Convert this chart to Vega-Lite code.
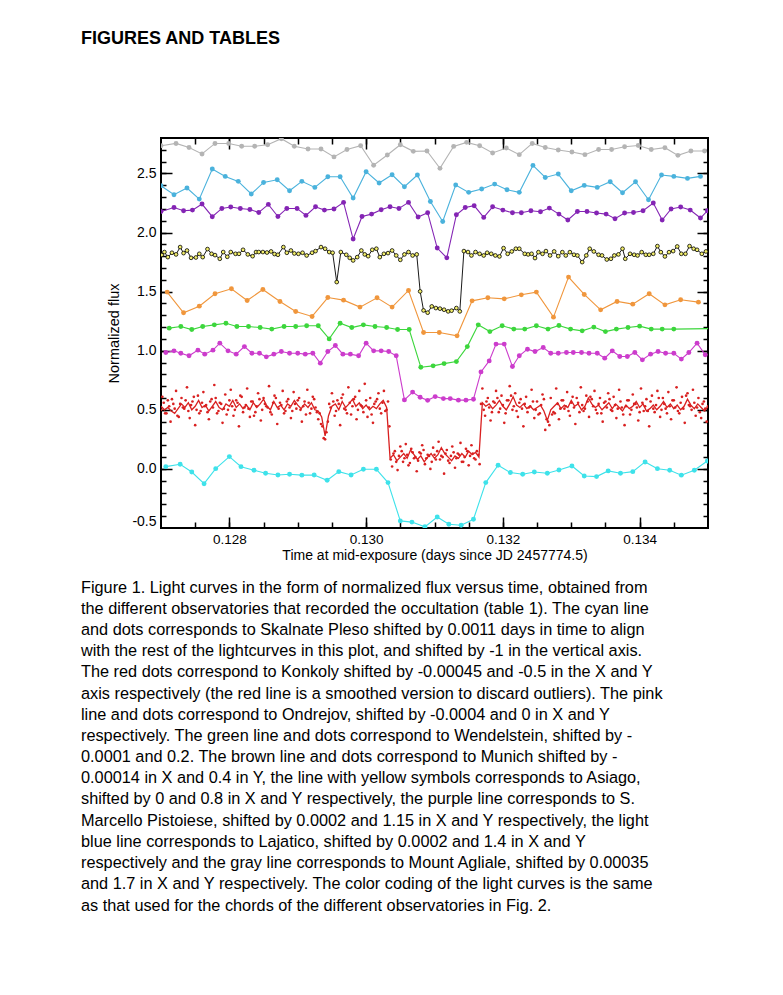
{
"$schema": "https://vega.github.io/schema/vega-lite/v6.json",
"background": "white",
"padding": {"left": 80, "top": 30, "right": 5, "bottom": 5},
"title": {"text": "FIGURES AND TABLES", "anchor": "start", "frame": "group", "dx": -80, "font": "Liberation Sans", "fontSize": 18, "fontWeight": "bold", "color": "black", "offset": 88},
"datasets": {
"main": [
{"s":"Skalnate","t":0.12707,"f":0.019},{"s":"Skalnate","t":0.12728,"f":0.039},{"s":"Skalnate","t":0.12745,"f":-0.026},{"s":"Skalnate","t":0.12763,"f":-0.125},{"s":"Skalnate","t":0.1278,"f":0.002},{"s":"Skalnate","t":0.128,"f":0.104},{"s":"Skalnate","t":0.12817,"f":0.019},{"s":"Skalnate","t":0.12836,"f":-0.011},{"s":"Skalnate","t":0.12853,"f":-0.037},{"s":"Skalnate","t":0.12871,"f":-0.051},{"s":"Skalnate","t":0.12888,"f":-0.045},{"s":"Skalnate","t":0.12906,"f":-0.053},{"s":"Skalnate","t":0.12924,"f":-0.051},{"s":"Skalnate","t":0.12943,"f":-0.096},{"s":"Skalnate","t":0.1296,"f":-0.023},{"s":"Skalnate","t":0.12978,"f":-0.051},{"s":"Skalnate","t":0.12996,"f":-0.003},{"s":"Skalnate","t":0.13015,"f":-0.003},{"s":"Skalnate","t":0.13032,"f":-0.116},{"s":"Skalnate","t":0.1305,"f":-0.44},{"s":"Skalnate","t":0.13067,"f":-0.45},{"s":"Skalnate","t":0.13086,"f":-0.49},{"s":"Skalnate","t":0.13104,"f":-0.407},{"s":"Skalnate","t":0.13121,"f":-0.468},{"s":"Skalnate","t":0.13139,"f":-0.477},{"s":"Skalnate","t":0.13157,"f":-0.426},{"s":"Skalnate","t":0.13175,"f":-0.116},{"s":"Skalnate","t":0.13193,"f":0.031},{"s":"Skalnate","t":0.13211,"f":-0.031},{"s":"Skalnate","t":0.13229,"f":-0.045},{"s":"Skalnate","t":0.13246,"f":-0.026},{"s":"Skalnate","t":0.13265,"f":-0.037},{"s":"Skalnate","t":0.13282,"f":-0.009},{"s":"Skalnate","t":0.13301,"f":0.025},{"s":"Skalnate","t":0.13319,"f":-0.06},{"s":"Skalnate","t":0.13337,"f":-0.065},{"s":"Skalnate","t":0.13354,"f":-0.017},{"s":"Skalnate","t":0.13372,"f":-0.037},{"s":"Skalnate","t":0.1339,"f":-0.023},{"s":"Skalnate","t":0.13408,"f":0.059},{"s":"Skalnate","t":0.13426,"f":0.002},{"s":"Skalnate","t":0.13444,"f":-0.011},{"s":"Skalnate","t":0.13461,"f":-0.053},{"s":"Skalnate","t":0.1348,"f":-0.011},{"s":"Skalnate","t":0.13499,"f":0.067},
{"s":"Ondrejov","t":0.12707,"f":0.985},{"s":"Ondrejov","t":0.12719,"f":0.999},{"s":"Ondrejov","t":0.12729,"f":0.979},{"s":"Ondrejov","t":0.12741,"f":0.957},{"s":"Ondrejov","t":0.12754,"f":1.005},{"s":"Ondrejov","t":0.12764,"f":0.971},{"s":"Ondrejov","t":0.12776,"f":1.005},{"s":"Ondrejov","t":0.12786,"f":1.064},{"s":"Ondrejov","t":0.12798,"f":0.999},{"s":"Ondrejov","t":0.1281,"f":0.971},{"s":"Ondrejov","t":0.12822,"f":1.035},{"s":"Ondrejov","t":0.12833,"f":0.979},{"s":"Ondrejov","t":0.12844,"f":0.979},{"s":"Ondrejov","t":0.12854,"f":0.948},{"s":"Ondrejov","t":0.12865,"f":0.971},{"s":"Ondrejov","t":0.12876,"f":0.993},{"s":"Ondrejov","t":0.12888,"f":0.979},{"s":"Ondrejov","t":0.129,"f":0.979},{"s":"Ondrejov","t":0.12911,"f":0.971},{"s":"Ondrejov","t":0.12922,"f":0.979},{"s":"Ondrejov","t":0.12933,"f":0.895},{"s":"Ondrejov","t":0.12944,"f":0.993},{"s":"Ondrejov","t":0.12955,"f":1.044},{"s":"Ondrejov","t":0.12966,"f":0.971},{"s":"Ondrejov","t":0.12977,"f":0.971},{"s":"Ondrejov","t":0.12989,"f":0.957},{"s":"Ondrejov","t":0.13,"f":1.064},{"s":"Ondrejov","t":0.13011,"f":0.999},{"s":"Ondrejov","t":0.13022,"f":0.999},{"s":"Ondrejov","t":0.13033,"f":0.993},{"s":"Ondrejov","t":0.13044,"f":0.957},{"s":"Ondrejov","t":0.13056,"f":0.584},{"s":"Ondrejov","t":0.13068,"f":0.65},{"s":"Ondrejov","t":0.13079,"f":0.606},{"s":"Ondrejov","t":0.1309,"f":0.58},{"s":"Ondrejov","t":0.13101,"f":0.612},{"s":"Ondrejov","t":0.13113,"f":0.595},{"s":"Ondrejov","t":0.13123,"f":0.595},{"s":"Ondrejov","t":0.13135,"f":0.582},{"s":"Ondrejov","t":0.13146,"f":0.582},{"s":"Ondrejov","t":0.13157,"f":0.59},{"s":"Ondrejov","t":0.13168,"f":0.821},{"s":"Ondrejov","t":0.1318,"f":0.914},{"s":"Ondrejov","t":0.1319,"f":1.056},{"s":"Ondrejov","t":0.13202,"f":1.056},{"s":"Ondrejov","t":0.13214,"f":0.866},{"s":"Ondrejov","t":0.13224,"f":0.957},{"s":"Ondrejov","t":0.13236,"f":1.013},{"s":"Ondrejov","t":0.13247,"f":0.993},{"s":"Ondrejov","t":0.13259,"f":1.027},{"s":"Ondrejov","t":0.1327,"f":0.979},{"s":"Ondrejov","t":0.13281,"f":0.979},{"s":"Ondrejov","t":0.13293,"f":0.985},{"s":"Ondrejov","t":0.13303,"f":0.985},{"s":"Ondrejov","t":0.13315,"f":0.985},{"s":"Ondrejov","t":0.13326,"f":0.979},{"s":"Ondrejov","t":0.13338,"f":0.979},{"s":"Ondrejov","t":0.13349,"f":0.937},{"s":"Ondrejov","t":0.1336,"f":0.999},{"s":"Ondrejov","t":0.13371,"f":0.951},{"s":"Ondrejov","t":0.13382,"f":0.951},{"s":"Ondrejov","t":0.13393,"f":0.985},{"s":"Ondrejov","t":0.13404,"f":0.923},{"s":"Ondrejov","t":0.13416,"f":0.971},{"s":"Ondrejov","t":0.13427,"f":0.993},{"s":"Ondrejov","t":0.13438,"f":0.979},{"s":"Ondrejov","t":0.1345,"f":0.979},{"s":"Ondrejov","t":0.13461,"f":0.929},{"s":"Ondrejov","t":0.13472,"f":0.985},{"s":"Ondrejov","t":0.13484,"f":1.064},{"s":"Ondrejov","t":0.13496,"f":0.965},
{"s":"Wendelstein","t":0.12712,"f":1.191},{"s":"Wendelstein","t":0.12729,"f":1.205},{"s":"Wendelstein","t":0.12745,"f":1.179},{"s":"Wendelstein","t":0.12761,"f":1.205},{"s":"Wendelstein","t":0.12778,"f":1.219},{"s":"Wendelstein","t":0.12795,"f":1.233},{"s":"Wendelstein","t":0.12811,"f":1.205},{"s":"Wendelstein","t":0.12828,"f":1.205},{"s":"Wendelstein","t":0.12845,"f":1.196},{"s":"Wendelstein","t":0.12862,"f":1.183},{"s":"Wendelstein","t":0.1288,"f":1.205},{"s":"Wendelstein","t":0.12897,"f":1.205},{"s":"Wendelstein","t":0.12913,"f":1.211},{"s":"Wendelstein","t":0.1293,"f":1.211},{"s":"Wendelstein","t":0.12946,"f":1.1},{"s":"Wendelstein","t":0.12962,"f":1.233},{"s":"Wendelstein","t":0.12979,"f":1.196},{"s":"Wendelstein","t":0.12996,"f":1.219},{"s":"Wendelstein","t":0.13013,"f":1.205},{"s":"Wendelstein","t":0.1303,"f":1.196},{"s":"Wendelstein","t":0.13046,"f":1.179},{"s":"Wendelstein","t":0.13063,"f":1.179},{"s":"Wendelstein","t":0.1308,"f":0.86},{"s":"Wendelstein","t":0.13098,"f":0.872},{"s":"Wendelstein","t":0.13114,"f":0.891},{"s":"Wendelstein","t":0.13132,"f":0.908},{"s":"Wendelstein","t":0.13148,"f":1.035},{"s":"Wendelstein","t":0.13164,"f":1.219},{"s":"Wendelstein","t":0.13181,"f":1.162},{"s":"Wendelstein","t":0.13199,"f":1.211},{"s":"Wendelstein","t":0.13216,"f":1.183},{"s":"Wendelstein","t":0.13232,"f":1.183},{"s":"Wendelstein","t":0.13249,"f":1.211},{"s":"Wendelstein","t":0.13266,"f":1.183},{"s":"Wendelstein","t":0.13282,"f":1.213},{"s":"Wendelstein","t":0.13299,"f":1.183},{"s":"Wendelstein","t":0.13316,"f":1.168},{"s":"Wendelstein","t":0.13333,"f":1.2},{"s":"Wendelstein","t":0.1335,"f":1.162},{"s":"Wendelstein","t":0.13366,"f":1.183},{"s":"Wendelstein","t":0.13383,"f":1.196},{"s":"Wendelstein","t":0.134,"f":1.208},{"s":"Wendelstein","t":0.13417,"f":1.183},{"s":"Wendelstein","t":0.13433,"f":1.183},{"s":"Wendelstein","t":0.1345,"f":1.183},{"s":"Wendelstein","t":0.1353,"f":1.19},
{"s":"Munich","t":0.12709,"f":1.496},{"s":"Munich","t":0.12733,"f":1.321},{"s":"Munich","t":0.12756,"f":1.377},{"s":"Munich","t":0.12779,"f":1.482},{"s":"Munich","t":0.12803,"f":1.524},{"s":"Munich","t":0.12826,"f":1.425},{"s":"Munich","t":0.12849,"f":1.518},{"s":"Munich","t":0.12874,"f":1.416},{"s":"Munich","t":0.12897,"f":1.332},{"s":"Munich","t":0.12921,"f":1.29},{"s":"Munich","t":0.12944,"f":1.45},{"s":"Munich","t":0.12967,"f":1.428},{"s":"Munich","t":0.12991,"f":1.369},{"s":"Munich","t":0.13016,"f":1.448},{"s":"Munich","t":0.13038,"f":1.369},{"s":"Munich","t":0.13062,"f":1.51},{"s":"Munich","t":0.13084,"f":1.154},{"s":"Munich","t":0.13107,"f":1.154},{"s":"Munich","t":0.13133,"f":1.126},{"s":"Munich","t":0.13155,"f":1.422},{"s":"Munich","t":0.13178,"f":1.448},{"s":"Munich","t":0.13202,"f":1.439},{"s":"Munich","t":0.13227,"f":1.473},{"s":"Munich","t":0.13249,"f":1.496},{"s":"Munich","t":0.13274,"f":1.284},{"s":"Munich","t":0.13296,"f":1.623},{"s":"Munich","t":0.13319,"f":1.476},{"s":"Munich","t":0.13343,"f":1.346},{"s":"Munich","t":0.13367,"f":1.417},{"s":"Munich","t":0.1339,"f":1.394},{"s":"Munich","t":0.13414,"f":1.482},{"s":"Munich","t":0.13437,"f":1.388},{"s":"Munich","t":0.1346,"f":1.431},{"s":"Munich","t":0.13486,"f":1.411},
{"s":"Marcello","t":0.127,"f":2.178},{"s":"Marcello","t":0.12719,"f":2.212},{"s":"Marcello","t":0.12733,"f":2.184},{"s":"Marcello","t":0.12746,"f":2.19},{"s":"Marcello","t":0.1276,"f":2.241},{"s":"Marcello","t":0.12775,"f":2.134},{"s":"Marcello","t":0.12789,"f":2.204},{"s":"Marcello","t":0.12802,"f":2.216},{"s":"Marcello","t":0.12816,"f":2.204},{"s":"Marcello","t":0.1283,"f":2.195},{"s":"Marcello","t":0.12843,"f":2.17},{"s":"Marcello","t":0.12857,"f":2.238},{"s":"Marcello","t":0.12871,"f":2.136},{"s":"Marcello","t":0.12884,"f":2.204},{"s":"Marcello","t":0.12899,"f":2.204},{"s":"Marcello","t":0.12912,"f":2.145},{"s":"Marcello","t":0.12926,"f":2.218},{"s":"Marcello","t":0.12939,"f":2.19},{"s":"Marcello","t":0.12953,"f":2.199},{"s":"Marcello","t":0.12967,"f":2.255},{"s":"Marcello","t":0.12981,"f":1.945},{"s":"Marcello","t":0.12994,"f":2.136},{"s":"Marcello","t":0.13008,"f":2.156},{"s":"Marcello","t":0.13022,"f":2.193},{"s":"Marcello","t":0.13035,"f":2.218},{"s":"Marcello","t":0.13048,"f":2.204},{"s":"Marcello","t":0.13062,"f":2.255},{"s":"Marcello","t":0.13076,"f":2.131},{"s":"Marcello","t":0.1309,"f":2.168},{"s":"Marcello","t":0.13104,"f":1.869},{"s":"Marcello","t":0.13118,"f":1.786},{"s":"Marcello","t":0.13132,"f":2.151},{"s":"Marcello","t":0.13145,"f":2.212},{"s":"Marcello","t":0.13158,"f":2.227},{"s":"Marcello","t":0.13172,"f":2.128},{"s":"Marcello","t":0.13185,"f":2.218},{"s":"Marcello","t":0.132,"f":2.19},{"s":"Marcello","t":0.13214,"f":2.167},{"s":"Marcello","t":0.13227,"f":2.167},{"s":"Marcello","t":0.13241,"f":2.184},{"s":"Marcello","t":0.13255,"f":2.176},{"s":"Marcello","t":0.13268,"f":2.207},{"s":"Marcello","t":0.13282,"f":2.156},{"s":"Marcello","t":0.13295,"f":2.106},{"s":"Marcello","t":0.13309,"f":2.178},{"s":"Marcello","t":0.13323,"f":2.178},{"s":"Marcello","t":0.13337,"f":2.165},{"s":"Marcello","t":0.13351,"f":2.156},{"s":"Marcello","t":0.13364,"f":2.117},{"s":"Marcello","t":0.13378,"f":2.165},{"s":"Marcello","t":0.13391,"f":2.17},{"s":"Marcello","t":0.13405,"f":2.184},{"s":"Marcello","t":0.1342,"f":2.25},{"s":"Marcello","t":0.13433,"f":2.106},{"s":"Marcello","t":0.13446,"f":2.199},{"s":"Marcello","t":0.1346,"f":2.216},{"s":"Marcello","t":0.13474,"f":2.19},{"s":"Marcello","t":0.13489,"f":2.123},{"s":"Marcello","t":0.13499,"f":2.184},
{"s":"Lajatico","t":0.127,"f":2.396},{"s":"Lajatico","t":0.12719,"f":2.32},{"s":"Lajatico","t":0.12738,"f":2.377},{"s":"Lajatico","t":0.12756,"f":2.283},{"s":"Lajatico","t":0.12775,"f":2.538},{"s":"Lajatico","t":0.12794,"f":2.475},{"s":"Lajatico","t":0.12813,"f":2.433},{"s":"Lajatico","t":0.12832,"f":2.326},{"s":"Lajatico","t":0.1285,"f":2.424},{"s":"Lajatico","t":0.1287,"f":2.447},{"s":"Lajatico","t":0.12888,"f":2.354},{"s":"Lajatico","t":0.12906,"f":2.433},{"s":"Lajatico","t":0.12925,"f":2.382},{"s":"Lajatico","t":0.12944,"f":2.472},{"s":"Lajatico","t":0.12962,"f":2.472},{"s":"Lajatico","t":0.12981,"f":2.292},{"s":"Lajatico","t":0.13,"f":2.515},{"s":"Lajatico","t":0.13019,"f":2.419},{"s":"Lajatico","t":0.13038,"f":2.489},{"s":"Lajatico","t":0.13056,"f":2.388},{"s":"Lajatico","t":0.13075,"f":2.487},{"s":"Lajatico","t":0.13094,"f":2.263},{"s":"Lajatico","t":0.13112,"f":2.094},{"s":"Lajatico","t":0.13131,"f":2.402},{"s":"Lajatico","t":0.1315,"f":2.34},{"s":"Lajatico","t":0.13169,"f":2.368},{"s":"Lajatico","t":0.13188,"f":2.41},{"s":"Lajatico","t":0.13206,"f":2.362},{"s":"Lajatico","t":0.13224,"f":2.34},{"s":"Lajatico","t":0.13244,"f":2.568},{"s":"Lajatico","t":0.13262,"f":2.466},{"s":"Lajatico","t":0.13281,"f":2.495},{"s":"Lajatico","t":0.133,"f":2.354},{"s":"Lajatico","t":0.13319,"f":2.399},{"s":"Lajatico","t":0.13338,"f":2.382},{"s":"Lajatico","t":0.13357,"f":2.43},{"s":"Lajatico","t":0.13375,"f":2.337},{"s":"Lajatico","t":0.13394,"f":2.43},{"s":"Lajatico","t":0.13413,"f":2.277},{"s":"Lajatico","t":0.13432,"f":2.487},{"s":"Lajatico","t":0.1345,"f":2.475},{"s":"Lajatico","t":0.1347,"f":2.458},{"s":"Lajatico","t":0.13489,"f":2.475},
{"s":"Agliale","t":0.127,"f":2.735},{"s":"Agliale","t":0.12722,"f":2.754},{"s":"Agliale","t":0.12741,"f":2.72},{"s":"Agliale","t":0.1276,"f":2.665},{"s":"Agliale","t":0.12779,"f":2.754},{"s":"Agliale","t":0.12799,"f":2.754},{"s":"Agliale","t":0.12818,"f":2.73},{"s":"Agliale","t":0.12837,"f":2.73},{"s":"Agliale","t":0.12856,"f":2.743},{"s":"Agliale","t":0.12876,"f":2.794},{"s":"Agliale","t":0.12895,"f":2.73},{"s":"Agliale","t":0.12915,"f":2.707},{"s":"Agliale","t":0.12934,"f":2.707},{"s":"Agliale","t":0.12953,"f":2.64},{"s":"Agliale","t":0.12972,"f":2.703},{"s":"Agliale","t":0.12992,"f":2.735},{"s":"Agliale","t":0.13011,"f":2.57},{"s":"Agliale","t":0.13031,"f":2.656},{"s":"Agliale","t":0.1305,"f":2.743},{"s":"Agliale","t":0.13069,"f":2.687},{"s":"Agliale","t":0.13089,"f":2.69},{"s":"Agliale","t":0.13108,"f":2.543},{"s":"Agliale","t":0.13128,"f":2.729},{"s":"Agliale","t":0.13147,"f":2.763},{"s":"Agliale","t":0.13166,"f":2.735},{"s":"Agliale","t":0.13185,"f":2.673},{"s":"Agliale","t":0.13205,"f":2.715},{"s":"Agliale","t":0.13224,"f":2.659},{"s":"Agliale","t":0.13243,"f":2.754},{"s":"Agliale","t":0.13262,"f":2.72},{"s":"Agliale","t":0.13281,"f":2.698},{"s":"Agliale","t":0.13301,"f":2.681},{"s":"Agliale","t":0.1332,"f":2.659},{"s":"Agliale","t":0.1334,"f":2.703},{"s":"Agliale","t":0.13359,"f":2.703},{"s":"Agliale","t":0.13378,"f":2.726},{"s":"Agliale","t":0.13398,"f":2.737},{"s":"Agliale","t":0.13417,"f":2.703},{"s":"Agliale","t":0.13437,"f":2.718},{"s":"Agliale","t":0.13456,"f":2.653},{"s":"Agliale","t":0.13475,"f":2.69},{"s":"Agliale","t":0.13495,"f":2.69}
],
"asiago": [
{"t":0.12701,"f":1.81},{"t":0.12705,"f":1.835},{"t":0.1271,"f":1.792},{"t":0.12716,"f":1.829},{"t":0.12722,"f":1.815},{"t":0.12728,"f":1.877},{"t":0.12733,"f":1.826},{"t":0.12738,"f":1.848},{"t":0.12744,"f":1.786},{"t":0.12751,"f":1.789},{"t":0.12756,"f":1.82},{"t":0.12761,"f":1.792},{"t":0.12768,"f":1.86},{"t":0.12774,"f":1.82},{"t":0.12779,"f":1.809},{"t":0.12786,"f":1.778},{"t":0.12791,"f":1.835},{"t":0.12797,"f":1.795},{"t":0.12802,"f":1.835},{"t":0.12809,"f":1.82},{"t":0.12814,"f":1.82},{"t":0.1282,"f":1.854},{"t":0.12827,"f":1.815},{"t":0.12834,"f":1.8},{"t":0.12839,"f":1.835},{"t":0.12843,"f":1.835},{"t":0.12849,"f":1.835},{"t":0.12855,"f":1.831},{"t":0.12861,"f":1.84},{"t":0.12866,"f":1.818},{"t":0.12871,"f":1.812},{"t":0.12879,"f":1.877},{"t":0.12884,"f":1.829},{"t":0.1289,"f":1.848},{"t":0.12895,"f":1.823},{"t":0.12901,"f":1.82},{"t":0.12907,"f":1.829},{"t":0.12913,"f":1.806},{"t":0.12921,"f":1.829},{"t":0.12926,"f":1.843},{"t":0.12934,"f":1.877},{"t":0.1294,"f":1.863},{"t":0.12946,"f":1.835},{"t":0.12951,"f":1.829},{"t":0.12957,"f":1.581},{"t":0.12963,"f":1.835},{"t":0.12971,"f":1.812},{"t":0.12976,"f":1.786},{"t":0.12981,"f":1.764},{"t":0.12987,"f":1.792},{"t":0.12993,"f":1.848},{"t":0.12998,"f":1.815},{"t":0.13003,"f":1.8},{"t":0.13009,"f":1.854},{"t":0.13015,"f":1.863},{"t":0.1302,"f":1.792},{"t":0.13026,"f":1.82},{"t":0.13032,"f":1.826},{"t":0.13038,"f":1.848},{"t":0.13044,"f":1.806},{"t":0.1305,"f":1.769},{"t":0.13056,"f":1.815},{"t":0.13062,"f":1.835},{"t":0.13068,"f":1.806},{"t":0.13074,"f":1.815},{"t":0.13079,"f":1.502},{"t":0.13084,"f":1.341},{"t":0.1309,"f":1.322},{"t":0.13096,"f":1.375},{"t":0.13102,"f":1.361},{"t":0.13108,"f":1.356},{"t":0.13114,"f":1.347},{"t":0.1312,"f":1.333},{"t":0.13125,"f":1.339},{"t":0.13132,"f":1.361},{"t":0.13137,"f":1.333},{"t":0.13143,"f":1.843},{"t":0.13149,"f":1.835},{"t":0.13154,"f":1.806},{"t":0.1316,"f":1.835},{"t":0.13166,"f":1.82},{"t":0.13172,"f":1.806},{"t":0.13177,"f":1.829},{"t":0.13183,"f":1.82},{"t":0.13189,"f":1.806},{"t":0.13195,"f":1.798},{"t":0.13201,"f":1.868},{"t":0.13207,"f":1.82},{"t":0.13213,"f":1.84},{"t":0.13219,"f":1.863},{"t":0.13224,"f":1.863},{"t":0.13232,"f":1.82},{"t":0.13237,"f":1.815},{"t":0.13242,"f":1.82},{"t":0.13247,"f":1.784},{"t":0.13252,"f":1.834},{"t":0.13258,"f":1.82},{"t":0.13263,"f":1.843},{"t":0.13269,"f":1.806},{"t":0.13275,"f":1.84},{"t":0.13281,"f":1.8},{"t":0.13287,"f":1.834},{"t":0.13292,"f":1.806},{"t":0.13298,"f":1.834},{"t":0.13304,"f":1.812},{"t":0.13309,"f":1.806},{"t":0.13316,"f":1.75},{"t":0.13322,"f":1.806},{"t":0.13327,"f":1.863},{"t":0.13333,"f":1.84},{"t":0.1334,"f":1.812},{"t":0.13345,"f":1.806},{"t":0.13352,"f":1.772},{"t":0.13358,"f":1.778},{"t":0.13363,"f":1.806},{"t":0.13369,"f":1.815},{"t":0.13375,"f":1.863},{"t":0.13379,"f":1.778},{"t":0.13386,"f":1.82},{"t":0.13392,"f":1.812},{"t":0.13397,"f":1.806},{"t":0.13403,"f":1.834},{"t":0.13409,"f":1.812},{"t":0.13414,"f":1.812},{"t":0.1342,"f":1.82},{"t":0.13426,"f":1.885},{"t":0.13431,"f":1.834},{"t":0.13437,"f":1.798},{"t":0.13443,"f":1.834},{"t":0.13449,"f":1.843},{"t":0.13455,"f":1.882},{"t":0.13461,"f":1.82},{"t":0.13467,"f":1.82},{"t":0.13473,"f":1.885},{"t":0.13479,"f":1.863},{"t":0.13484,"f":1.854},{"t":0.13491,"f":1.82},{"t":0.13497,"f":1.84}
],
"kline": [
{"t":0.127,"f":0.53},{"t":0.12705,"f":0.5},{"t":0.1271,"f":0.52},{"t":0.12715,"f":0.49},{"t":0.1272,"f":0.47},{"t":0.12725,"f":0.51},{"t":0.1273,"f":0.55},{"t":0.12735,"f":0.52},{"t":0.1274,"f":0.56},{"t":0.12745,"f":0.5},{"t":0.1275,"f":0.53},{"t":0.12755,"f":0.58},{"t":0.1276,"f":0.52},{"t":0.12765,"f":0.54},{"t":0.1277,"f":0.49},{"t":0.12775,"f":0.53},{"t":0.1278,"f":0.57},{"t":0.12785,"f":0.52},{"t":0.1279,"f":0.5},{"t":0.12795,"f":0.55},{"t":0.128,"f":0.53},{"t":0.12805,"f":0.58},{"t":0.1281,"f":0.52},{"t":0.12815,"f":0.55},{"t":0.1282,"f":0.51},{"t":0.12825,"f":0.54},{"t":0.1283,"f":0.5},{"t":0.12835,"f":0.56},{"t":0.1284,"f":0.52},{"t":0.12845,"f":0.55},{"t":0.1285,"f":0.59},{"t":0.12855,"f":0.53},{"t":0.1286,"f":0.5},{"t":0.12865,"f":0.57},{"t":0.1287,"f":0.52},{"t":0.12875,"f":0.54},{"t":0.1288,"f":0.5},{"t":0.12885,"f":0.55},{"t":0.1289,"f":0.53},{"t":0.12895,"f":0.58},{"t":0.129,"f":0.54},{"t":0.12905,"f":0.51},{"t":0.1291,"f":0.55},{"t":0.12915,"f":0.52},{"t":0.1292,"f":0.56},{"t":0.12925,"f":0.5},{"t":0.1293,"f":0.49},{"t":0.12935,"f":0.44},{"t":0.1294,"f":0.28},{"t":0.12945,"f":0.45},{"t":0.1295,"f":0.53},{"t":0.12955,"f":0.55},{"t":0.1296,"f":0.5},{"t":0.12965,"f":0.57},{"t":0.1297,"f":0.52},{"t":0.12975,"f":0.55},{"t":0.1298,"f":0.59},{"t":0.12985,"f":0.53},{"t":0.1299,"f":0.56},{"t":0.12995,"f":0.51},{"t":0.13,"f":0.54},{"t":0.13005,"f":0.5},{"t":0.1301,"f":0.53},{"t":0.13015,"f":0.51},{"t":0.1302,"f":0.55},{"t":0.13025,"f":0.58},{"t":0.1303,"f":0.52},{"t":0.13035,"f":0.09},{"t":0.1304,"f":0.12},{"t":0.13045,"f":0.07},{"t":0.1305,"f":0.1},{"t":0.13055,"f":0.13},{"t":0.1306,"f":0.09},{"t":0.13065,"f":0.16},{"t":0.1307,"f":0.12},{"t":0.13075,"f":0.08},{"t":0.1308,"f":0.11},{"t":0.13085,"f":0.06},{"t":0.1309,"f":0.1},{"t":0.13095,"f":0.13},{"t":0.131,"f":0.09},{"t":0.13105,"f":0.12},{"t":0.1311,"f":0.18},{"t":0.13115,"f":0.13},{"t":0.1312,"f":0.1},{"t":0.13125,"f":0.07},{"t":0.1313,"f":0.11},{"t":0.13135,"f":0.09},{"t":0.1314,"f":0.13},{"t":0.13145,"f":0.1},{"t":0.1315,"f":0.15},{"t":0.13155,"f":0.12},{"t":0.1316,"f":0.14},{"t":0.13165,"f":0.1},{"t":0.1317,"f":0.56},{"t":0.13175,"f":0.53},{"t":0.1318,"f":0.55},{"t":0.13185,"f":0.51},{"t":0.1319,"f":0.54},{"t":0.13195,"f":0.58},{"t":0.132,"f":0.53},{"t":0.13205,"f":0.5},{"t":0.1321,"f":0.55},{"t":0.13215,"f":0.61},{"t":0.1322,"f":0.54},{"t":0.13225,"f":0.52},{"t":0.1323,"f":0.55},{"t":0.13235,"f":0.51},{"t":0.1324,"f":0.53},{"t":0.13245,"f":0.5},{"t":0.1325,"f":0.52},{"t":0.13255,"f":0.54},{"t":0.1326,"f":0.49},{"t":0.13265,"f":0.41},{"t":0.1327,"f":0.5},{"t":0.13275,"f":0.53},{"t":0.1328,"f":0.56},{"t":0.13285,"f":0.51},{"t":0.1329,"f":0.54},{"t":0.13295,"f":0.52},{"t":0.133,"f":0.58},{"t":0.13305,"f":0.53},{"t":0.1331,"f":0.55},{"t":0.13315,"f":0.5},{"t":0.1332,"f":0.53},{"t":0.13325,"f":0.6},{"t":0.1333,"f":0.55},{"t":0.13335,"f":0.52},{"t":0.1334,"f":0.54},{"t":0.13345,"f":0.5},{"t":0.1335,"f":0.53},{"t":0.13355,"f":0.56},{"t":0.1336,"f":0.51},{"t":0.13365,"f":0.55},{"t":0.1337,"f":0.52},{"t":0.13375,"f":0.49},{"t":0.1338,"f":0.54},{"t":0.13385,"f":0.51},{"t":0.1339,"f":0.53},{"t":0.13395,"f":0.57},{"t":0.134,"f":0.52},{"t":0.13405,"f":0.55},{"t":0.1341,"f":0.49},{"t":0.13415,"f":0.51},{"t":0.1342,"f":0.54},{"t":0.13425,"f":0.5},{"t":0.1343,"f":0.53},{"t":0.13435,"f":0.57},{"t":0.1344,"f":0.52},{"t":0.13445,"f":0.55},{"t":0.1345,"f":0.51},{"t":0.13455,"f":0.54},{"t":0.1346,"f":0.5},{"t":0.13465,"f":0.53},{"t":0.1347,"f":0.59},{"t":0.13475,"f":0.54},{"t":0.1348,"f":0.51},{"t":0.13485,"f":0.55},{"t":0.1349,"f":0.52},{"t":0.13495,"f":0.49},{"t":0.135,"f":0.53}
],
"kdots": [
{"t":0.12702,"f":0.61},{"t":0.12706,"f":0.47},{"t":0.1271,"f":0.58},{"t":0.12714,"f":0.4},{"t":0.12718,"f":0.55},{"t":0.12722,"f":0.66},{"t":0.12726,"f":0.44},{"t":0.1273,"f":0.6},{"t":0.12734,"f":0.51},{"t":0.12738,"f":0.69},{"t":0.12742,"f":0.43},{"t":0.12746,"f":0.57},{"t":0.1275,"f":0.37},{"t":0.12754,"f":0.62},{"t":0.12758,"f":0.49},{"t":0.12762,"f":0.65},{"t":0.12766,"f":0.54},{"t":0.1277,"f":0.42},{"t":0.12774,"f":0.59},{"t":0.12778,"f":0.71},{"t":0.12782,"f":0.47},{"t":0.12786,"f":0.56},{"t":0.1279,"f":0.39},{"t":0.12794,"f":0.63},{"t":0.12798,"f":0.5},{"t":0.12802,"f":0.67},{"t":0.12806,"f":0.45},{"t":0.1281,"f":0.58},{"t":0.12814,"f":0.36},{"t":0.12818,"f":0.61},{"t":0.12822,"f":0.52},{"t":0.12826,"f":0.68},{"t":0.1283,"f":0.44},{"t":0.12834,"f":0.57},{"t":0.12838,"f":0.48},{"t":0.12842,"f":0.64},{"t":0.12846,"f":0.41},{"t":0.1285,"f":0.6},{"t":0.12854,"f":0.53},{"t":0.12858,"f":0.7},{"t":0.12862,"f":0.46},{"t":0.12866,"f":0.62},{"t":0.1287,"f":0.38},{"t":0.12874,"f":0.56},{"t":0.12878,"f":0.66},{"t":0.12882,"f":0.49},{"t":0.12886,"f":0.59},{"t":0.1289,"f":0.43},{"t":0.12894,"f":0.65},{"t":0.12898,"f":0.51},{"t":0.12902,"f":0.6},{"t":0.12906,"f":0.4},{"t":0.1291,"f":0.57},{"t":0.12914,"f":0.67},{"t":0.12918,"f":0.47},{"t":0.12922,"f":0.61},{"t":0.12926,"f":0.52},{"t":0.1293,"f":0.42},{"t":0.12934,"f":0.38},{"t":0.12938,"f":0.26},{"t":0.12942,"f":0.31},{"t":0.12946,"f":0.55},{"t":0.1295,"f":0.64},{"t":0.12954,"f":0.45},{"t":0.12958,"f":0.58},{"t":0.12962,"f":0.37},{"t":0.12966,"f":0.63},{"t":0.1297,"f":0.5},{"t":0.12974,"f":0.69},{"t":0.12978,"f":0.46},{"t":0.12982,"f":0.59},{"t":0.12986,"f":0.42},{"t":0.1299,"f":0.66},{"t":0.12994,"f":0.53},{"t":0.12998,"f":0.72},{"t":0.13002,"f":0.44},{"t":0.13006,"f":0.6},{"t":0.1301,"f":0.39},{"t":0.13014,"f":0.57},{"t":0.13018,"f":0.64},{"t":0.13022,"f":0.47},{"t":0.13026,"f":0.66},{"t":0.1303,"f":0.5},{"t":0.13034,"f":0.36},
{"t":0.13038,"f":0.02},{"t":0.13042,"f":0.15},{"t":0.13046,"f":-0.01},{"t":0.1305,"f":0.19},{"t":0.13054,"f":0.06},{"t":0.13058,"f":0.21},{"t":0.13062,"f":0.03},{"t":0.13066,"f":0.17},{"t":0.1307,"f":0.09},{"t":0.13074,"f":-0.02},{"t":0.13078,"f":0.14},{"t":0.13082,"f":0.2},{"t":0.13086,"f":0.04},{"t":0.1309,"f":0.12},{"t":0.13094,"f":0.0},{"t":0.13098,"f":0.18},{"t":0.13102,"f":0.08},{"t":0.13106,"f":0.23},{"t":0.1311,"f":0.11},{"t":0.13114,"f":-0.04},{"t":0.13118,"f":0.16},{"t":0.13122,"f":0.05},{"t":0.13126,"f":0.19},{"t":0.1313,"f":0.01},{"t":0.13134,"f":0.13},{"t":0.13138,"f":0.22},{"t":0.13142,"f":0.06},{"t":0.13146,"f":0.17},{"t":0.1315,"f":0.03},{"t":0.13154,"f":0.2},{"t":0.13158,"f":0.09},{"t":0.13162,"f":0.15},{"t":0.13166,"f":0.04},
{"t":0.1317,"f":0.68},{"t":0.13174,"f":0.45},{"t":0.13178,"f":0.6},{"t":0.13182,"f":0.41},{"t":0.13186,"f":0.57},{"t":0.1319,"f":0.66},{"t":0.13194,"f":0.48},{"t":0.13198,"f":0.62},{"t":0.13202,"f":0.39},{"t":0.13206,"f":0.58},{"t":0.1321,"f":0.7},{"t":0.13214,"f":0.5},{"t":0.13218,"f":0.64},{"t":0.13222,"f":0.44},{"t":0.13226,"f":0.59},{"t":0.1323,"f":0.36},{"t":0.13234,"f":0.61},{"t":0.13238,"f":0.52},{"t":0.13242,"f":0.67},{"t":0.13246,"f":0.43},{"t":0.1325,"f":0.57},{"t":0.13254,"f":0.47},{"t":0.13258,"f":0.63},{"t":0.13262,"f":0.33},{"t":0.13266,"f":0.4},{"t":0.1327,"f":0.6},{"t":0.13274,"f":0.48},{"t":0.13278,"f":0.68},{"t":0.13282,"f":0.42},{"t":0.13286,"f":0.58},{"t":0.1329,"f":0.51},{"t":0.13294,"f":0.65},{"t":0.13298,"f":0.45},{"t":0.13302,"f":0.61},{"t":0.13306,"f":0.38},{"t":0.1331,"f":0.56},{"t":0.13314,"f":0.69},{"t":0.13318,"f":0.49},{"t":0.13322,"f":0.62},{"t":0.13326,"f":0.44},{"t":0.1333,"f":0.59},{"t":0.13334,"f":0.66},{"t":0.13338,"f":0.47},{"t":0.13342,"f":0.6},{"t":0.13346,"f":0.4},{"t":0.1335,"f":0.57},{"t":0.13354,"f":0.64},{"t":0.13358,"f":0.5},{"t":0.13362,"f":0.61},{"t":0.13366,"f":0.43},{"t":0.1337,"f":0.67},{"t":0.13374,"f":0.52},{"t":0.13378,"f":0.37},{"t":0.13382,"f":0.58},{"t":0.13386,"f":0.46},{"t":0.1339,"f":0.63},{"t":0.13394,"f":0.55},{"t":0.13398,"f":0.41},{"t":0.13402,"f":0.68},{"t":0.13406,"f":0.49},{"t":0.1341,"f":0.59},{"t":0.13414,"f":0.36},{"t":0.13418,"f":0.62},{"t":0.13422,"f":0.48},{"t":0.13426,"f":0.66},{"t":0.1343,"f":0.44},{"t":0.13434,"f":0.6},{"t":0.13438,"f":0.51},{"t":0.13442,"f":0.65},{"t":0.13446,"f":0.42},{"t":0.1345,"f":0.58},{"t":0.13454,"f":0.69},{"t":0.13458,"f":0.47},{"t":0.13462,"f":0.61},{"t":0.13466,"f":0.39},{"t":0.1347,"f":0.64},{"t":0.13474,"f":0.53},{"t":0.13478,"f":0.67},{"t":0.13482,"f":0.45},{"t":0.13486,"f":0.6},{"t":0.1349,"f":0.43},{"t":0.13494,"f":0.57},{"t":0.13498,"f":0.4},
{"t":0.127,"f":0.5},{"t":0.12704,"f":0.56},{"t":0.12708,"f":0.47},{"t":0.12712,"f":0.53},{"t":0.12716,"f":0.59},{"t":0.1272,"f":0.51},{"t":0.12724,"f":0.45},{"t":0.12728,"f":0.55},{"t":0.12732,"f":0.52},{"t":0.12736,"f":0.58},{"t":0.1274,"f":0.49},{"t":0.12744,"f":0.54},{"t":0.12748,"f":0.61},{"t":0.12752,"f":0.5},{"t":0.12756,"f":0.47},{"t":0.1276,"f":0.56},{"t":0.12764,"f":0.53},{"t":0.12768,"f":0.48},{"t":0.12772,"f":0.57},{"t":0.12776,"f":0.52},{"t":0.1278,"f":0.6},{"t":0.12784,"f":0.49},{"t":0.12788,"f":0.55},{"t":0.12792,"f":0.51},{"t":0.12796,"f":0.46},{"t":0.128,"f":0.58},{"t":0.12804,"f":0.53},{"t":0.12808,"f":0.5},{"t":0.12812,"f":0.56},{"t":0.12816,"f":0.62},{"t":0.1282,"f":0.48},{"t":0.12824,"f":0.54},{"t":0.12828,"f":0.51},{"t":0.12832,"f":0.57},{"t":0.12836,"f":0.45},{"t":0.1284,"f":0.53},{"t":0.12844,"f":0.59},{"t":0.12848,"f":0.5},{"t":0.12852,"f":0.55},{"t":0.12856,"f":0.52},{"t":0.1286,"f":0.48},{"t":0.12864,"f":0.56},{"t":0.12868,"f":0.6},{"t":0.12872,"f":0.51},{"t":0.12876,"f":0.54},{"t":0.1288,"f":0.47},{"t":0.12884,"f":0.57},{"t":0.12888,"f":0.52},{"t":0.12892,"f":0.49},{"t":0.12896,"f":0.55},{"t":0.129,"f":0.58},{"t":0.12904,"f":0.5},{"t":0.12908,"f":0.53},{"t":0.12912,"f":0.46},{"t":0.12916,"f":0.56},{"t":0.1292,"f":0.51},{"t":0.12924,"f":0.59},{"t":0.12928,"f":0.48},{"t":0.12932,"f":0.47},{"t":0.12936,"f":0.36},{"t":0.1294,"f":0.25},{"t":0.12944,"f":0.4},{"t":0.12948,"f":0.52},{"t":0.12952,"f":0.57},{"t":0.12956,"f":0.49},{"t":0.1296,"f":0.55},{"t":0.12964,"f":0.6},{"t":0.12968,"f":0.51},{"t":0.12972,"f":0.47},{"t":0.12976,"f":0.56},{"t":0.1298,"f":0.53},{"t":0.12984,"f":0.61},{"t":0.12988,"f":0.5},{"t":0.12992,"f":0.54},{"t":0.12996,"f":0.48},{"t":0.13,"f":0.58},{"t":0.13004,"f":0.52},{"t":0.13008,"f":0.46},{"t":0.13012,"f":0.55},{"t":0.13016,"f":0.59},{"t":0.1302,"f":0.51},{"t":0.13024,"f":0.56},{"t":0.13028,"f":0.49},{"t":0.13032,"f":0.57},
{"t":0.13036,"f":0.08},{"t":0.1304,"f":0.13},{"t":0.13044,"f":0.06},{"t":0.13048,"f":0.11},{"t":0.13052,"f":0.15},{"t":0.13056,"f":0.09},{"t":0.1306,"f":0.12},{"t":0.13064,"f":0.05},{"t":0.13068,"f":0.14},{"t":0.13072,"f":0.1},{"t":0.13076,"f":0.07},{"t":0.1308,"f":0.13},{"t":0.13084,"f":0.16},{"t":0.13088,"f":0.09},{"t":0.13092,"f":0.11},{"t":0.13096,"f":0.06},{"t":0.131,"f":0.12},{"t":0.13104,"f":0.15},{"t":0.13108,"f":0.08},{"t":0.13112,"f":0.1},{"t":0.13116,"f":0.13},{"t":0.1312,"f":0.07},{"t":0.13124,"f":0.11},{"t":0.13128,"f":0.14},{"t":0.13132,"f":0.09},{"t":0.13136,"f":0.12},{"t":0.1314,"f":0.06},{"t":0.13144,"f":0.1},{"t":0.13148,"f":0.15},{"t":0.13152,"f":0.11},{"t":0.13156,"f":0.13},{"t":0.1316,"f":0.08},{"t":0.13164,"f":0.12},
{"t":0.13168,"f":0.55},{"t":0.13172,"f":0.5},{"t":0.13176,"f":0.57},{"t":0.1318,"f":0.52},{"t":0.13184,"f":0.48},{"t":0.13188,"f":0.56},{"t":0.13192,"f":0.6},{"t":0.13196,"f":0.51},{"t":0.132,"f":0.54},{"t":0.13204,"f":0.47},{"t":0.13208,"f":0.58},{"t":0.13212,"f":0.62},{"t":0.13216,"f":0.53},{"t":0.1322,"f":0.49},{"t":0.13224,"f":0.56},{"t":0.13228,"f":0.51},{"t":0.13232,"f":0.55},{"t":0.13236,"f":0.48},{"t":0.1324,"f":0.53},{"t":0.13244,"f":0.57},{"t":0.13248,"f":0.5},{"t":0.13252,"f":0.46},{"t":0.13256,"f":0.54},{"t":0.1326,"f":0.59},{"t":0.13264,"f":0.42},{"t":0.13268,"f":0.37},{"t":0.13272,"f":0.46},{"t":0.13276,"f":0.47},{"t":0.1328,"f":0.55},{"t":0.13284,"f":0.51},{"t":0.13288,"f":0.58},{"t":0.13292,"f":0.53},{"t":0.13296,"f":0.49},{"t":0.133,"f":0.56},{"t":0.13304,"f":0.52},{"t":0.13308,"f":0.6},{"t":0.13312,"f":0.48},{"t":0.13316,"f":0.54},{"t":0.1332,"f":0.51},{"t":0.13324,"f":0.57},{"t":0.13328,"f":0.61},{"t":0.13332,"f":0.53},{"t":0.13336,"f":0.5},{"t":0.1334,"f":0.55},{"t":0.13344,"f":0.47},{"t":0.13348,"f":0.56},{"t":0.13352,"f":0.52},{"t":0.13356,"f":0.59},{"t":0.1336,"f":0.49},{"t":0.13364,"f":0.54},{"t":0.13368,"f":0.51},{"t":0.13372,"f":0.57},{"t":0.13376,"f":0.46},{"t":0.1338,"f":0.53},{"t":0.13384,"f":0.58},{"t":0.13388,"f":0.5},{"t":0.13392,"f":0.55},{"t":0.13396,"f":0.52},{"t":0.134,"f":0.48},{"t":0.13404,"f":0.56},{"t":0.13408,"f":0.53},{"t":0.13412,"f":0.49},{"t":0.13416,"f":0.57},{"t":0.1342,"f":0.51},{"t":0.13424,"f":0.54},{"t":0.13428,"f":0.6},{"t":0.13432,"f":0.5},{"t":0.13436,"f":0.55},{"t":0.1344,"f":0.47},{"t":0.13444,"f":0.53},{"t":0.13448,"f":0.58},{"t":0.13452,"f":0.52},{"t":0.13456,"f":0.49},{"t":0.1346,"f":0.56},{"t":0.13464,"f":0.51},{"t":0.13468,"f":0.62},{"t":0.13472,"f":0.54},{"t":0.13476,"f":0.5},{"t":0.1348,"f":0.56},{"t":0.13484,"f":0.52},{"t":0.13488,"f":0.48},{"t":0.13492,"f":0.55},{"t":0.13496,"f":0.51},{"t":0.135,"f":0.53}
]
},
"vconcat": [{
"width": 547,
"height": 390,
"title": {"text": ["Figure 1. Light curves in the form of normalized flux versus time, obtained from", "the different observatories that recorded the occultation (table 1). The cyan line", "and dots corresponds to Skalnate Pleso shifted by 0.0011 days in time to align", "with the rest of the lightcurves in this plot, and shifted by -1 in the vertical axis.", "The red dots correspond to Konkoly shifted by -0.00045 and -0.5 in the X and Y", "axis respectively (the red line is a smoothed version to discard outliers). The pink", "line and dots correspond to Ondrejov, shifted by -0.0004 and 0 in X and Y", "respectively. The green line and dots correspond to Wendelstein, shifted by -", "0.0001 and 0.2. The brown line and dots correspond to Munich shifted by -", "0.00014 in X and 0.4 in Y, the line with yellow symbols corresponds to Asiago,", "shifted by 0 and 0.8 in X and Y respectively, the purple line corresponds to S.", "Marcello Pistoiese, shifted by 0.0002 and 1.15 in X and Y respectively, the light", "blue line corresponds to Lajatico, shifted by 0.0002 and 1.4 in X and Y", "respectively and the gray line corresponds to Mount Agliale, shifted by 0.00035", "and 1.7 in X and Y respectively. The color coding of the light curves is the same", "as that used for the chords of the different observatories in Fig. 2."], "orient": "bottom", "anchor": "start", "frame": "group", "dx": -80, "offset": 17, "font": "Liberation Sans", "fontSize": 16.3, "fontWeight": "normal", "lineHeight": 21.2, "color": "black"},
"resolve": {"axis": {"x": "independent", "y": "independent"}},
"layer": [
{"data": {"name": "kdots"},
 "mark": {"type": "circle", "color": "#d92020", "size": 7, "opacity": 1, "clip": true},
 "encoding": {
  "x": {"field": "t", "type": "quantitative", "scale": {"domain": [0.127, 0.135], "nice": false, "zero": false}, "axis": {"orient": "bottom", "values": [0.1275,0.128,0.1285,0.129,0.1295,0.13,0.1305,0.131,0.1315,0.132,0.1325,0.133,0.1335,0.134,0.1345], "labels": false, "domain": false, "grid": false, "tickSize": -6, "tickWidth": 1.5, "tickColor": "black", "title": null}},
  "y": {"field": "f", "type": "quantitative", "scale": {"domain": [-0.5, 2.8], "nice": false, "zero": false}, "axis": {"orient": "left", "values": [-0.4,-0.3,-0.2,-0.1,0,0.1,0.2,0.3,0.4,0.5,0.6,0.7,0.8,0.9,1,1.1,1.2,1.3,1.4,1.5,1.6,1.7,1.8,1.9,2,2.1,2.2,2.3,2.4,2.5,2.6,2.7], "labels": false, "domain": false, "grid": false, "tickSize": -5, "tickWidth": 1.5, "tickColor": "black", "title": null}}
 }},
{"data": {"name": "kline"},
 "mark": {"type": "line", "color": "#d92020", "strokeWidth": 1.3, "clip": true},
 "encoding": {
  "x": {"field": "t", "type": "quantitative", "axis": {"orient": "top", "values": [0.1275,0.128,0.1285,0.129,0.1295,0.13,0.1305,0.131,0.1315,0.132,0.1325,0.133,0.1335,0.134,0.1345], "labels": false, "domain": false, "grid": false, "tickSize": -6, "tickWidth": 1.5, "tickColor": "black", "title": null}},
  "y": {"field": "f", "type": "quantitative", "axis": {"orient": "right", "values": [-0.4,-0.3,-0.2,-0.1,0,0.1,0.2,0.3,0.4,0.5,0.6,0.7,0.8,0.9,1,1.1,1.2,1.3,1.4,1.5,1.6,1.7,1.8,1.9,2,2.1,2.2,2.3,2.4,2.5,2.6,2.7], "labels": false, "domain": false, "grid": false, "tickSize": -5, "tickWidth": 1.5, "tickColor": "black", "title": null}}
 }},
{"data": {"name": "main"},
 "mark": {"type": "line", "strokeWidth": 1.1, "clip": true},
 "encoding": {
  "x": {"field": "t", "type": "quantitative", "axis": {"orient": "bottom", "values": [0.128,0.13,0.132,0.134], "labels": false, "domain": false, "grid": false, "tickSize": -11, "tickWidth": 1.5, "tickColor": "black", "title": null}},
  "y": {"field": "f", "type": "quantitative", "axis": {"orient": "left", "values": [0,0.5,1,1.5,2,2.5], "labels": false, "domain": false, "grid": false, "tickSize": -11, "tickWidth": 1.5, "tickColor": "black", "title": null}},
  "color": {"field": "s", "type": "nominal", "scale": {"domain": ["Skalnate","Ondrejov","Wendelstein","Munich","Marcello","Lajatico","Agliale"], "range": ["#3ee2ea","#cc3ccc","#3cd63c","#f0963c","#8424b4","#4ab2dc","#b4b4b4"]}, "legend": null}
 }},
{"data": {"name": "main"},
 "mark": {"type": "circle", "size": 24, "opacity": 1, "clip": true},
 "encoding": {
  "x": {"field": "t", "type": "quantitative", "axis": {"orient": "top", "values": [0.128,0.13,0.132,0.134], "labels": false, "domain": false, "grid": false, "tickSize": -11, "tickWidth": 1.5, "tickColor": "black", "title": null}},
  "y": {"field": "f", "type": "quantitative", "axis": {"orient": "right", "values": [0,0.5,1,1.5,2,2.5], "labels": false, "domain": false, "grid": false, "tickSize": -11, "tickWidth": 1.5, "tickColor": "black", "title": null}},
  "color": {"field": "s", "type": "nominal", "legend": null}
 }},
{"data": {"name": "asiago"},
 "mark": {"type": "line", "color": "black", "strokeWidth": 0.9, "clip": true},
 "encoding": {
  "x": {"field": "t", "type": "quantitative", "axis": {"orient": "bottom", "values": [0.128,0.13,0.132,0.134], "format": ".3f", "ticks": false, "domain": false, "grid": false, "labelPadding": 4, "labelFontSize": 13.5, "labelColor": "black", "title": "Time at mid-exposure (days since JD 2457774.5)", "titleFontSize": 14, "titleFontWeight": "normal", "titleColor": "black", "titlePadding": 3}},
  "y": {"field": "f", "type": "quantitative", "axis": {"orient": "left", "values": [-0.5,0,0.5,1,1.5,2,2.5], "labelExpr": "datum.value < 0 ? '-' + format(-datum.value, '.1f') : format(datum.value, '.1f')", "ticks": false, "domain": false, "grid": false, "labelPadding": 5, "labelFontSize": 14, "labelColor": "black", "labelFlush": true, "title": "Normalized flux", "titleFontSize": 14.5, "titleFontWeight": "normal", "titleColor": "black", "titlePadding": 10}}
 }},
{"data": {"name": "asiago"},
 "mark": {"type": "point", "shape": "circle", "filled": true, "fill": "#f2ee6a", "stroke": "black", "strokeWidth": 0.8, "size": 14, "opacity": 1, "clip": true},
 "encoding": {
  "x": {"field": "t", "type": "quantitative", "axis": null},
  "y": {"field": "f", "type": "quantitative", "axis": null}
 }}
]
}],
"config": {"font": "Liberation Sans", "view": {"stroke": "black", "strokeWidth": 2}, "axis": {"labelFont": "Liberation Sans", "titleFont": "Liberation Sans"}, "title": {"font": "Liberation Sans"}}
}
